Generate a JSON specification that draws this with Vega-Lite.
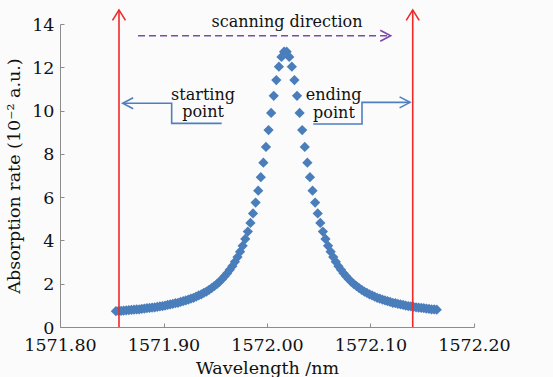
{
  "$schema": "https://vega.github.io/schema/vega-lite/v6.json",
  "width": 414,
  "height": 303,
  "autosize": {"type": "none"},
  "padding": {"left": 60, "top": 24, "right": 79, "bottom": 50},
  "background": "#fbfbfb",
  "config": {
    "view": {"stroke": null},
    "font": "DejaVu Serif",
    "axis": {
      "grid": false,
      "domainColor": "#8c8c8c",
      "tickColor": "#8c8c8c",
      "tickSize": -4,
      "labelFlush": false,
      "labelOverlap": false,
      "labelFont": "DejaVu Serif",
      "labelFontSize": 17.5,
      "labelColor": "#111111",
      "titleFont": "DejaVu Serif",
      "titleFontSize": 17.5,
      "titleFontWeight": "normal",
      "titleColor": "#111111"
    }
  },
  "datasets": {
    "spectrum": [
      {"wavelength": 1571.854, "rate": 0.73}, {"wavelength": 1571.8565, "rate": 0.74}, {"wavelength": 1571.859, "rate": 0.75}, {"wavelength": 1571.8615, "rate": 0.76},
      {"wavelength": 1571.864, "rate": 0.77}, {"wavelength": 1571.8665, "rate": 0.78}, {"wavelength": 1571.869, "rate": 0.79}, {"wavelength": 1571.8715, "rate": 0.80},
      {"wavelength": 1571.874, "rate": 0.81}, {"wavelength": 1571.8765, "rate": 0.82}, {"wavelength": 1571.879, "rate": 0.84}, {"wavelength": 1571.8815, "rate": 0.85},
      {"wavelength": 1571.884, "rate": 0.87}, {"wavelength": 1571.8865, "rate": 0.88}, {"wavelength": 1571.889, "rate": 0.90}, {"wavelength": 1571.8915, "rate": 0.91},
      {"wavelength": 1571.894, "rate": 0.93}, {"wavelength": 1571.8965, "rate": 0.95}, {"wavelength": 1571.899, "rate": 0.97}, {"wavelength": 1571.9015, "rate": 0.99},
      {"wavelength": 1571.904, "rate": 1.02}, {"wavelength": 1571.9065, "rate": 1.04}, {"wavelength": 1571.909, "rate": 1.07}, {"wavelength": 1571.9115, "rate": 1.10},
      {"wavelength": 1571.914, "rate": 1.12}, {"wavelength": 1571.9165, "rate": 1.16}, {"wavelength": 1571.919, "rate": 1.19}, {"wavelength": 1571.9215, "rate": 1.23},
      {"wavelength": 1571.924, "rate": 1.27}, {"wavelength": 1571.9265, "rate": 1.31}, {"wavelength": 1571.929, "rate": 1.35}, {"wavelength": 1571.9315, "rate": 1.40},
      {"wavelength": 1571.934, "rate": 1.46}, {"wavelength": 1571.9365, "rate": 1.51}, {"wavelength": 1571.939, "rate": 1.58}, {"wavelength": 1571.9415, "rate": 1.64},
      {"wavelength": 1571.944, "rate": 1.72}, {"wavelength": 1571.9465, "rate": 1.80}, {"wavelength": 1571.949, "rate": 1.89}, {"wavelength": 1571.9515, "rate": 1.98},
      {"wavelength": 1571.954, "rate": 2.09}, {"wavelength": 1571.9565, "rate": 2.21}, {"wavelength": 1571.959, "rate": 2.34}, {"wavelength": 1571.9615, "rate": 2.48},
      {"wavelength": 1571.964, "rate": 2.64}, {"wavelength": 1571.9665, "rate": 2.81}, {"wavelength": 1571.969, "rate": 3.01}, {"wavelength": 1571.9715, "rate": 3.23},
      {"wavelength": 1571.974, "rate": 3.48}, {"wavelength": 1571.9765, "rate": 3.75}, {"wavelength": 1571.979, "rate": 4.07}, {"wavelength": 1571.9815, "rate": 4.41},
      {"wavelength": 1571.984, "rate": 4.81}, {"wavelength": 1571.9865, "rate": 5.25}, {"wavelength": 1571.989, "rate": 5.75}, {"wavelength": 1571.9915, "rate": 6.30},
      {"wavelength": 1571.994, "rate": 6.92}, {"wavelength": 1571.9965, "rate": 7.59}, {"wavelength": 1571.999, "rate": 8.32}, {"wavelength": 1572.0015, "rate": 9.10},
      {"wavelength": 1572.004, "rate": 9.89}, {"wavelength": 1572.0065, "rate": 10.68}, {"wavelength": 1572.009, "rate": 11.41}, {"wavelength": 1572.0115, "rate": 12.03},
      {"wavelength": 1572.014, "rate": 12.48}, {"wavelength": 1572.0165, "rate": 12.72}, {"wavelength": 1572.019, "rate": 12.72}, {"wavelength": 1572.0215, "rate": 12.48},
      {"wavelength": 1572.024, "rate": 12.03}, {"wavelength": 1572.0265, "rate": 11.41}, {"wavelength": 1572.029, "rate": 10.68}, {"wavelength": 1572.0315, "rate": 9.89},
      {"wavelength": 1572.034, "rate": 9.10}, {"wavelength": 1572.0365, "rate": 8.32}, {"wavelength": 1572.039, "rate": 7.59}, {"wavelength": 1572.0415, "rate": 6.92},
      {"wavelength": 1572.044, "rate": 6.30}, {"wavelength": 1572.0465, "rate": 5.75}, {"wavelength": 1572.049, "rate": 5.25}, {"wavelength": 1572.0515, "rate": 4.81},
      {"wavelength": 1572.054, "rate": 4.41}, {"wavelength": 1572.0565, "rate": 4.07}, {"wavelength": 1572.059, "rate": 3.75}, {"wavelength": 1572.0615, "rate": 3.48},
      {"wavelength": 1572.064, "rate": 3.23}, {"wavelength": 1572.0665, "rate": 3.01}, {"wavelength": 1572.069, "rate": 2.81}, {"wavelength": 1572.0715, "rate": 2.64},
      {"wavelength": 1572.074, "rate": 2.48}, {"wavelength": 1572.0765, "rate": 2.34}, {"wavelength": 1572.079, "rate": 2.21}, {"wavelength": 1572.0815, "rate": 2.09},
      {"wavelength": 1572.084, "rate": 1.98}, {"wavelength": 1572.0865, "rate": 1.89}, {"wavelength": 1572.089, "rate": 1.80}, {"wavelength": 1572.0915, "rate": 1.72},
      {"wavelength": 1572.094, "rate": 1.64}, {"wavelength": 1572.0965, "rate": 1.58}, {"wavelength": 1572.099, "rate": 1.51}, {"wavelength": 1572.1015, "rate": 1.46},
      {"wavelength": 1572.104, "rate": 1.40}, {"wavelength": 1572.1065, "rate": 1.35}, {"wavelength": 1572.109, "rate": 1.31}, {"wavelength": 1572.1115, "rate": 1.27},
      {"wavelength": 1572.114, "rate": 1.23}, {"wavelength": 1572.1165, "rate": 1.19}, {"wavelength": 1572.119, "rate": 1.16}, {"wavelength": 1572.1215, "rate": 1.12},
      {"wavelength": 1572.124, "rate": 1.10}, {"wavelength": 1572.1265, "rate": 1.07}, {"wavelength": 1572.129, "rate": 1.04}, {"wavelength": 1572.1315, "rate": 1.02},
      {"wavelength": 1572.134, "rate": 0.99}, {"wavelength": 1572.1365, "rate": 0.97}, {"wavelength": 1572.139, "rate": 0.95}, {"wavelength": 1572.1415, "rate": 0.93},
      {"wavelength": 1572.144, "rate": 0.91}, {"wavelength": 1572.1465, "rate": 0.90}, {"wavelength": 1572.149, "rate": 0.88}, {"wavelength": 1572.1515, "rate": 0.87},
      {"wavelength": 1572.154, "rate": 0.85}, {"wavelength": 1572.1565, "rate": 0.84}, {"wavelength": 1572.159, "rate": 0.82}, {"wavelength": 1572.1615, "rate": 0.81},
      {"wavelength": 1572.164, "rate": 0.80}
    ],
    "scanLimits": [
      {"wavelength": 1571.857, "bottom": 0, "top": 14.65},
      {"wavelength": 1572.1408, "bottom": 0, "top": 14.65}
    ],
    "scanArrow": [
      {"wavelength": 1571.8754, "rate": 13.46, "seq": 0},
      {"wavelength": 1572.1195, "rate": 13.46, "seq": 1}
    ],
    "callouts": [
      {"callout": "start", "seq": 0, "wavelength": 1571.8606, "rate": 10.34},
      {"callout": "start", "seq": 1, "wavelength": 1571.9079, "rate": 10.34},
      {"callout": "start", "seq": 2, "wavelength": 1571.9079, "rate": 9.41},
      {"callout": "start", "seq": 3, "wavelength": 1571.9562, "rate": 9.41},
      {"callout": "end", "seq": 0, "wavelength": 1572.0447, "rate": 9.38},
      {"callout": "end", "seq": 1, "wavelength": 1572.0918, "rate": 9.38},
      {"callout": "end", "seq": 2, "wavelength": 1572.0918, "rate": 10.38},
      {"callout": "end", "seq": 3, "wavelength": 1572.1382, "rate": 10.38}
    ],
    "labels": [
      {"text": "scanning direction", "wavelength": 1572.0193, "rate": 13.85},
      {"text": "starting", "wavelength": 1571.9382, "rate": 10.49},
      {"text": "point", "wavelength": 1571.9382, "rate": 9.68},
      {"text": "ending", "wavelength": 1572.0644, "rate": 10.49},
      {"text": "point", "wavelength": 1572.0647, "rate": 9.64}
    ]
  },
  "encoding": {
    "x": {
      "field": "wavelength",
      "type": "quantitative",
      "scale": {"domain": [1571.8, 1572.2], "nice": false, "zero": false},
      "axis": {
        "title": "Wavelength /nm",
        "values": [1571.8, 1571.9, 1572.0, 1572.1, 1572.2],
        "format": ".2f",
        "labelPadding": 13,
        "titlePadding": 6
      }
    },
    "y": {
      "field": "rate",
      "type": "quantitative",
      "scale": {"domain": [0, 14], "nice": false},
      "axis": {
        "title": "Absorption rate (10⁻² a.u.)",
        "values": [0, 2, 4, 6, 8, 10, 12, 14],
        "format": "d",
        "labelPadding": 10,
        "labelOffset": 1,
        "titlePadding": 8
      }
    }
  },
  "layer": [
    {
      "data": {"name": "spectrum"},
      "mark": {"type": "point", "shape": "diamond", "filled": true, "size": 105, "color": "#4A7EBB", "opacity": 1}
    },
    {
      "data": {"name": "scanLimits"},
      "mark": {"type": "rule", "color": "#F02828", "strokeWidth": 1.6},
      "encoding": {
        "y": {"field": "bottom", "type": "quantitative"},
        "y2": {"field": "top"}
      }
    },
    {
      "data": {"name": "scanLimits"},
      "mark": {"type": "point", "shape": "M-1,1.6L0,0L1,1.6", "filled": false, "size": 169, "color": "#F02828", "strokeWidth": 1.6, "opacity": 1},
      "encoding": {
        "y": {"field": "top", "type": "quantitative"}
      }
    },
    {
      "data": {"name": "scanArrow"},
      "mark": {"type": "line", "color": "#7A4BAA", "strokeWidth": 1.6, "strokeDash": [7, 4]},
      "encoding": {"order": {"field": "seq"}}
    },
    {
      "data": {"name": "scanArrow"},
      "transform": [{"filter": "datum.seq == 1"}],
      "mark": {"type": "point", "shape": "M-1.9,-1L0,0L-1.9,1", "filled": false, "size": 121, "color": "#7A4BAA", "strokeWidth": 1.6, "opacity": 1}
    },
    {
      "data": {"name": "callouts"},
      "mark": {"type": "line", "color": "#4F7FC0", "strokeWidth": 1.6},
      "encoding": {
        "detail": {"field": "callout"},
        "order": {"field": "seq"}
      }
    },
    {
      "data": {"name": "callouts"},
      "transform": [{"filter": "datum.callout == 'start' && datum.seq == 0"}],
      "mark": {"type": "point", "shape": "M1.9,-1L0,0L1.9,1", "filled": false, "size": 121, "color": "#4F7FC0", "strokeWidth": 1.6, "opacity": 1}
    },
    {
      "data": {"name": "callouts"},
      "transform": [{"filter": "datum.callout == 'end' && datum.seq == 3"}],
      "mark": {"type": "point", "shape": "M-1.9,-1L0,0L-1.9,1", "filled": false, "size": 121, "color": "#4F7FC0", "strokeWidth": 1.6, "opacity": 1}
    },
    {
      "data": {"name": "labels"},
      "mark": {"type": "text", "font": "DejaVu Serif", "fontSize": 16, "color": "#111111", "align": "center", "baseline": "alphabetic"},
      "encoding": {"text": {"field": "text"}}
    }
  ]
}
